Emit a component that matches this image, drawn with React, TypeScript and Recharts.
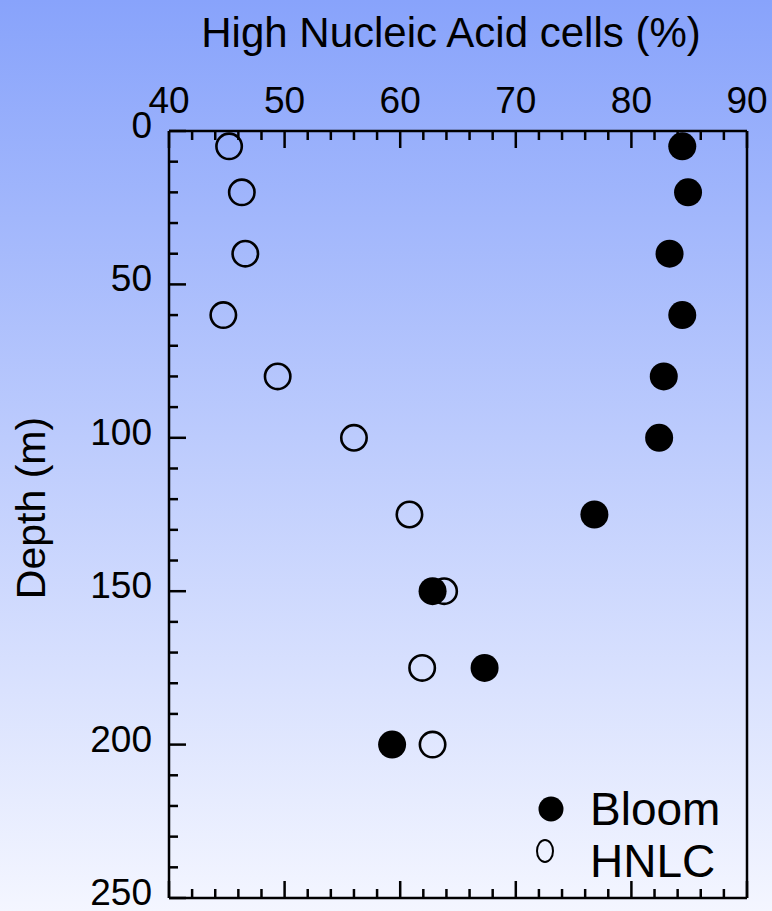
import React from 'react';
import { ScatterChart, Scatter, XAxis, YAxis, Legend } from 'recharts';

// depth of each sample (m)
const depths = [5, 20, 40, 60, 80, 100, 125, 150, 175, 200];
// % high nucleic acid cells
const bloomValues = [84.4, 84.9, 83.3, 84.4, 82.8, 82.4, 76.8, 62.8, 67.3, 59.3];
const hnlcValues = [45.2, 46.3, 46.6, 44.7, 49.4, 56.0, 60.8, 63.8, 61.9, 62.8];

const xTicks = [40, 42, 44, 46, 48, 50, 52, 54, 56, 58, 60, 62, 64, 66, 68, 70, 72, 74, 76, 78, 80, 82, 84, 86, 88, 90];
const yTicks = [0, 10, 20, 30, 40, 50, 60, 70, 80, 90, 100, 110, 120, 130, 140, 150, 160, 170, 180, 190, 200, 210, 220, 230, 240, 250];

const W = 772;
const H = 911;
const LEFT = 169;
const TOP = 131;
const RIGHT = 747;
const BOTTOM = 898;
const FONT = '"Liberation Sans", Arial, Helvetica, sans-serif';

// axis band sizes (the plot area itself is fixed by LEFT/TOP/RIGHT/BOTTOM)
const TOP_AXIS_H = 40;
const BOTTOM_AXIS_H = 10;
const LEFT_AXIS_W = 60;
const RIGHT_AXIS_W = 10;

const bloomData = depths.map((d, i) => ({ x: bloomValues[i], y: d }));
const hnlcData = depths.map((d, i) => ({ x: hnlcValues[i], y: d }));

const TopTick = (props: any) => {
  const { x, payload } = props;
  const major = payload.value % 10 === 0;
  return (
    <g>
      <line x1={x} x2={x} y1={TOP} y2={TOP + (major ? 17 : 9)} stroke="#000" strokeWidth={2.5} />
      {major && (
        <text x={x} y={113} textAnchor="middle" fontSize={37} fontFamily={FONT} fill="#000">
          {payload.value}
        </text>
      )}
    </g>
  );
};

const BottomTick = (props: any) => {
  const { x, payload } = props;
  const major = payload.value % 10 === 0;
  return <line x1={x} x2={x} y1={BOTTOM} y2={BOTTOM - (major ? 17 : 9)} stroke="#000" strokeWidth={2.5} />;
};

const LeftTick = (props: any) => {
  const { y, payload } = props;
  const major = payload.value % 50 === 0;
  return (
    <g>
      <line x1={LEFT} x2={LEFT + (major ? 17 : 9)} y1={y} y2={y} stroke="#000" strokeWidth={2.5} />
      {major && (
        <text x={152} y={y + 7} textAnchor="end" fontSize={37} fontFamily={FONT} fill="#000">
          {payload.value}
        </text>
      )}
    </g>
  );
};

const FilledDot = (p: any) => <circle cx={p.cx} cy={p.cy} r={14} fill="#000" />;
const OpenDot = (p: any) => <circle cx={p.cx} cy={p.cy} r={12.7} fill="none" stroke="#000" strokeWidth={2.6} />;

const renderLegend = (props: any) => {
  const items = props.payload || [];
  return (
    <svg width={220} height={110} style={{ display: 'block', overflow: 'visible' }}>
      {items.map((it: any, i: number) => (
        <g key={it.value}>
          {i === 0 ? (
            <circle cx={21} cy={24} r={12.5} fill="#000" />
          ) : (
            <ellipse cx={15} cy={66} rx={8} ry={11} fill="none" stroke="#000" strokeWidth={2} />
          )}
          <text x={60} y={i === 0 ? 40 : 92} fontSize={46} fontFamily={FONT} fill="#000">
            {it.value}
          </text>
        </g>
      ))}
    </svg>
  );
};

export default function App() {
  return (
    <div
      style={{
        width: W,
        height: H,
        position: 'relative',
        background: 'linear-gradient(to bottom, #88a3fb 0%, #bccbfd 48%, #f4f6ff 100%)',
        fontFamily: FONT,
      }}
    >
      <style>{'body{margin:0}'}</style>
      <ScatterChart
        width={W}
        height={H}
        margin={{
          top: TOP - TOP_AXIS_H,
          left: LEFT - LEFT_AXIS_W,
          right: W - RIGHT - RIGHT_AXIS_W,
          bottom: H - BOTTOM - BOTTOM_AXIS_H,
        }}
      >
        <XAxis
          xAxisId="top"
          orientation="top"
          type="number"
          dataKey="x"
          domain={[40, 90]}
          ticks={xTicks}
          interval={0}
          height={TOP_AXIS_H}
          tickLine={false}
          tick={<TopTick />}
          axisLine={{ stroke: '#000', strokeWidth: 2.5 }}
          allowDataOverflow
        />
        <XAxis
          xAxisId="bottom"
          orientation="bottom"
          type="number"
          dataKey="x"
          domain={[40, 90]}
          ticks={xTicks}
          interval={0}
          height={BOTTOM_AXIS_H}
          tickLine={false}
          tick={<BottomTick />}
          axisLine={{ stroke: '#000', strokeWidth: 2.5 }}
          allowDataOverflow
        />
        <YAxis
          yAxisId="left"
          type="number"
          dataKey="y"
          reversed
          domain={[0, 250]}
          ticks={yTicks}
          interval={0}
          width={LEFT_AXIS_W}
          tickLine={false}
          tick={<LeftTick />}
          axisLine={{ stroke: '#000', strokeWidth: 2.5 }}
          allowDataOverflow
        />
        <YAxis
          yAxisId="right"
          orientation="right"
          type="number"
          dataKey="y"
          reversed
          domain={[0, 250]}
          width={RIGHT_AXIS_W}
          tick={false}
          tickLine={false}
          axisLine={{ stroke: '#000', strokeWidth: 2.5 }}
          allowDataOverflow
        />
        <Legend
          verticalAlign="middle"
          align="center"
          content={renderLegend}
          wrapperStyle={{ left: 530, top: 785, width: 220, height: 110 }}
        />
        <Scatter
          name="Bloom"
          data={bloomData}
          xAxisId="top"
          yAxisId="left"
          shape={FilledDot}
          isAnimationActive={false}
        />
        <Scatter
          name="HNLC"
          data={hnlcData}
          xAxisId="top"
          yAxisId="left"
          shape={OpenDot}
          isAnimationActive={false}
        />
      </ScatterChart>
      <svg width={W} height={H} style={{ position: 'absolute', left: 0, top: 0, pointerEvents: 'none' }}>
        <text x={451} y={47} textAnchor="middle" fontSize={42} fontFamily={FONT} fill="#000">
          High Nucleic Acid cells (%)
        </text>
        <text x={45} y={508} textAnchor="middle" fontSize={41} fontFamily={FONT} fill="#000" transform="rotate(-90 45 508)">
          Depth (m)
        </text>
      </svg>
    </div>
  );
}
